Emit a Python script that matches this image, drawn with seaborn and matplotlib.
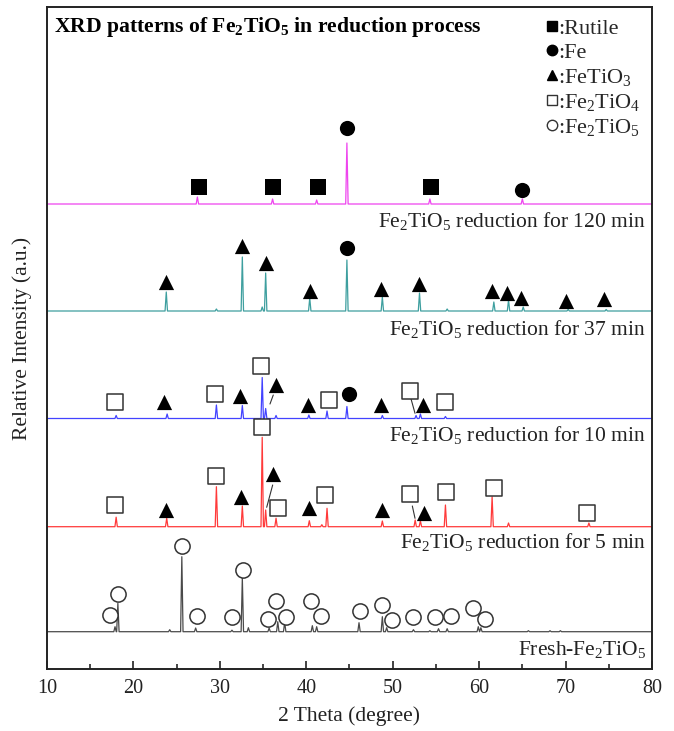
import matplotlib
matplotlib.use("Agg")
import matplotlib.pyplot as plt
import seaborn as sns
import pandas as pd
from matplotlib.ticker import MultipleLocator
from matplotlib.lines import Line2D

# ---------------- data (2theta in degree, intensity in a.u.) ----------------
# stacking offsets of the five patterns (a.u.)
offsets = {"120": 465.0, "37": 358.0, "10": 250.5, "5": 142.3, "fresh": 37.3}

# peaks: positions and heights above each baseline
p120_pos = [27.4, 36.1, 41.2, 44.7, 54.3, 65.0]
p120_int = [7, 5, 4, 61, 5, 5]

p37_pos = [23.8, 29.6, 32.6, 34.9, 35.3, 40.4, 44.7, 48.8, 53.1, 56.3, 61.7, 63.4, 65.1, 70.3, 74.7]
p37_int = [19, 2, 54, 4, 38, 13, 51, 14, 18, 2, 9, 11, 4, 1.5, 1.5]

p10_pos = [18.0, 23.9, 29.6, 32.6, 34.9, 35.3, 36.5, 40.3, 42.4, 44.7, 48.8, 52.7, 53.2, 56.1]
p10_int = [3, 4.5, 13.5, 13, 41, 10, 3, 3.5, 7.5, 12, 3, 3, 4.5, 2]

p5_pos = [18.0, 23.85, 29.6, 32.6, 34.9, 35.3, 36.5, 40.35, 41.8, 42.4, 48.8, 52.6, 53.2, 56.1, 61.5, 63.4, 72.7]
p5_int = [9.5, 8.5, 40, 20.7, 89.4, 16.7, 8.5, 6, 2, 18.4, 5.7, 6.7, 6, 21.7, 30, 3.7, 3.7]

pf_pos = [17.87, 18.2, 24.2, 25.6, 27.2, 31.4, 32.6, 33.3, 35.7, 36.7, 37.5, 40.7, 41.2, 46.1,
          48.8, 49.3, 52.4, 54.3, 55.3, 56.3, 59.9, 60.2, 65.7, 68.2, 69.4]
pf_int = [5, 28.4, 2, 75, 3.7, 1.5, 54, 4, 3.7, 10, 9.4, 6, 5, 9,
          15, 4, 2, 1, 3, 3, 5, 4, 1, 1, 1]

# phase markers (2theta, a.u.)
rutile_x = [27.6, 36.1, 41.4, 54.4]
rutile_y = [482, 482, 482, 482]

fe_x = [44.7, 65.0, 44.7, 44.9]
fe_y = [541, 479, 421, 274.7]

fetio3_x = [23.8, 32.6, 35.3, 40.4, 48.7, 53.0, 61.5, 63.2, 64.9, 70.0, 74.4,
            23.5, 32.3, 36.5, 40.2, 48.6, 53.55,
            23.77, 32.45, 36.1, 40.3, 48.8, 53.65]
fetio3_y = [387, 423.3, 406, 378, 380, 385, 378.3, 376.3, 371, 368, 369.7,
            267.3, 273.3, 284, 264, 264, 264,
            159, 172.3, 194.7, 160.7, 159, 156.3]

fe2tio4_x = [17.9, 29.4, 34.8, 42.6, 52.0, 56.1,
             17.87, 29.6, 34.84, 36.76, 42.2, 52.0, 56.13, 61.7, 72.5]
fe2tio4_y = [266.7, 274.7, 303.3, 269, 278, 266.7,
             164, 193, 242, 160.7, 174, 174.7, 176.7, 180.7, 155.7]

fe2tio5_x = [17.29, 18.25, 25.58, 27.32, 31.37, 32.71, 35.6, 36.46, 37.62, 40.51, 41.67,
             46.2, 48.8, 49.95, 52.4, 54.9, 56.8, 59.3, 60.7]
fe2tio5_y = [54, 74.7, 123, 53.3, 51.7, 99, 50, 68.3, 52.3, 68.3, 53.3,
             58, 64, 49, 52.3, 52.3, 53.3, 60.7, 50]

# leader lines (2theta, a.u.)
leader_x = [[35.8, 36.18], [52.1, 52.58], [35.42, 36.11], [52.27, 52.58]]
leader_y = [[265, 274], [270.7, 255.7], [161.7, 184], [163, 150.7]]

pattern_labels = [r"Fe$_2$TiO$_5$ reduction for 120 min",
                  r"Fe$_2$TiO$_5$ reduction for 37 min",
                  r"Fe$_2$TiO$_5$ reduction for 10 min",
                  r"Fe$_2$TiO$_5$ reduction for 5 min",
                  r"Fresh-Fe$_2$TiO$_5$"]
label_y = [442.5, 334.5, 227.5, 121, 14]

legend_labels = [":Rutile", ":Fe", r":FeTiO$_3$", r":Fe$_2$TiO$_4$", r":Fe$_2$TiO$_5$"]

colors = ["#ee44ee", "#3e9f9f", "#4343ff", "#ff3a3a", "#4a4a4a"]

# ---------------- style ----------------
sns.set_theme(style="ticks")
plt.rcParams["font.family"] = ["Liberation Serif", "DejaVu Serif"]
plt.rcParams["mathtext.fontset"] = "custom"
plt.rcParams["mathtext.rm"] = "Liberation Serif"
plt.rcParams["mathtext.it"] = "Liberation Serif"
plt.rcParams["mathtext.bf"] = "Liberation Serif:bold"


def trace(pos, height, base, hw=0.14):
    xs, ys = [10.0], [base]
    for p, h in sorted(zip(pos, height)):
        xs += [p - hw, p, p + hw]
        ys += [base, base + h, base]
    xs.append(80.0)
    ys.append(base)
    return pd.DataFrame({"theta": xs, "I": ys})


fig = plt.figure(figsize=(6.74, 7.31), dpi=100)
ax = fig.add_axes([47 / 674, 62 / 731, 605 / 674, 662 / 731])

patterns = [(p120_pos, p120_int, offsets["120"]),
            (p37_pos, p37_int, offsets["37"]),
            (p10_pos, p10_int, offsets["10"]),
            (p5_pos, p5_int, offsets["5"]),
            (pf_pos, pf_int, offsets["fresh"])]

for (pos, hh, base), c in zip(patterns, colors):
    df = trace(pos, hh, base)
    sns.lineplot(data=df, x="theta", y="I", ax=ax, color=c, lw=0.9,
                 estimator=None, sort=False)

for lx, ly in zip(leader_x, leader_y):
    ax.plot(lx, ly, color="#333333", lw=0.8)

ms = 120
sns.scatterplot(x=rutile_x, y=rutile_y, ax=ax, marker="s", s=ms, color="black",
                edgecolor="black", linewidth=0, zorder=5)
sns.scatterplot(x=fe_x, y=fe_y, ax=ax, marker="o", s=ms, color="black",
                edgecolor="black", linewidth=0, zorder=5)
sns.scatterplot(x=fetio3_x, y=fetio3_y, ax=ax, marker="^", s=ms, color="black",
                edgecolor="black", linewidth=0, zorder=5)
sns.scatterplot(x=fe2tio4_x, y=fe2tio4_y, ax=ax, marker="s", s=ms, color="white",
                edgecolor="#333333", linewidth=1.1, zorder=5)
sns.scatterplot(x=fe2tio5_x, y=fe2tio5_y, ax=ax, marker="o", s=ms, color="white",
                edgecolor="#333333", linewidth=1.1, zorder=5)

for txt, yy in zip(pattern_labels, label_y):
    ax.text(79.3, yy, txt, ha="right", va="baseline", fontsize=15.5, color="#222222")

ax.text(0.012, 0.962, r"XRD patterns of Fe$_\mathbf{2}$TiO$_\mathbf{5}$ in reduction process",
        transform=ax.transAxes, ha="left", va="baseline", fontsize=15.6,
        fontweight="bold", color="black")

handles = [Line2D([], [], ls="", marker="s", color="black", markersize=7),
           Line2D([], [], ls="", marker="o", color="black", markersize=7.5),
           Line2D([], [], ls="", marker="^", color="black", markersize=7.5),
           Line2D([], [], ls="", marker="s", markerfacecolor="white",
                  markeredgecolor="#333333", markeredgewidth=1, markersize=7.5),
           Line2D([], [], ls="", marker="o", markerfacecolor="white",
                  markeredgecolor="#333333", markeredgewidth=1, markersize=7.5)]
ax.legend(handles, legend_labels, loc="upper right", frameon=False, fontsize=16,
          handlelength=0.6, handletextpad=0.0, labelspacing=0.18,
          borderaxespad=0.2, borderpad=0.3)

ax.set_xlim(10, 80)
ax.set_ylim(0, 662)
ax.xaxis.set_major_locator(MultipleLocator(10))
ax.xaxis.set_minor_locator(MultipleLocator(5))
ax.tick_params(axis="x", which="major", direction="in", length=6, width=1.2,
               labelsize=14.5, pad=7, colors="#222222")
ax.tick_params(axis="x", which="minor", direction="in", length=3.5, width=1.2)
ax.set_yticks([])
for sp in ax.spines.values():
    sp.set_visible(True)
    sp.set_linewidth(1.4)
    sp.set_color("#222222")

ax.set_xlabel("2 Theta (degree)", fontsize=15.5, labelpad=6, color="#222222")
ax.set_ylabel("Relative Intensity (a.u.)", fontsize=15.5, labelpad=11, color="#222222")

fig.savefig("out.png", dpi=100)
